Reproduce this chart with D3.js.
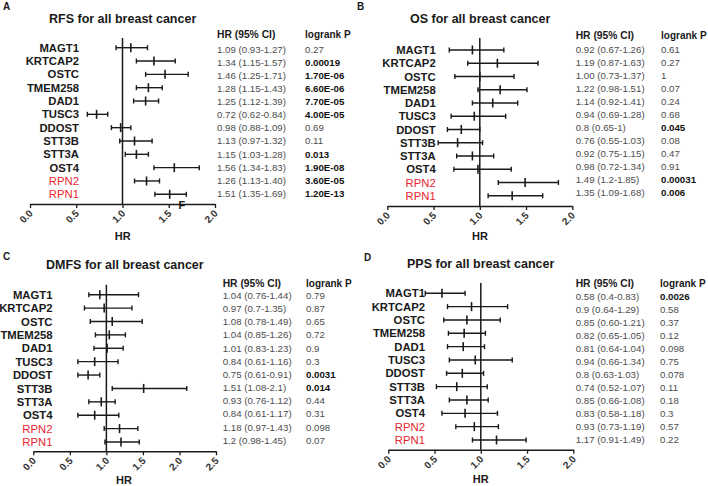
<!DOCTYPE html>
<html>
<head>
<meta charset="utf-8">
<script src="https://cdn.jsdelivr.net/npm/d3@7"></script>
<style>
  html, body { margin: 0; padding: 0; background: #fff; }
  svg { display: block; font-family: "Liberation Sans", Arial, Helvetica, sans-serif; }
</style>
</head>
<body>
<svg id="chart" width="708" height="486"></svg>
<script>
// ---------------- data ----------------
const genes = ["MAGT1","KRTCAP2","OSTC","TMEM258","DAD1","TUSC3","DDOST","STT3B","STT3A","OST4","RPN2","RPN1"];
const redGenes = ["RPN2","RPN1"];

const rfsHR = [1.09,1.34,1.46,1.28,1.25,0.72,0.98,1.13,1.15,1.56,1.26,1.51];
const rfsLo = [0.93,1.15,1.25,1.15,1.12,0.62,0.88,0.97,1.03,1.34,1.13,1.35];
const rfsHi = [1.27,1.57,1.71,1.43,1.39,0.84,1.09,1.32,1.28,1.83,1.40,1.69];
const rfsCI = ["1.09 (0.93-1.27)","1.34 (1.15-1.57)","1.46 (1.25-1.71)","1.28 (1.15-1.43)","1.25 (1.12-1.39)","0.72 (0.62-0.84)","0.98 (0.88-1.09)","1.13 (0.97-1.32)","1.15 (1.03-1.28)","1.56 (1.34-1.83)","1.26 (1.13-1.40)","1.51 (1.35-1.69)"];
const rfsP  = ["0.27","0.00019","1.70E-06","6.60E-06","7.70E-05","4.00E-05","0.69","0.11","0.013","1.90E-08","3.60E-05","1.20E-13"];

const osHR = [0.92,1.19,1.00,1.22,1.14,0.94,0.80,0.76,0.92,0.98,1.49,1.35];
const osLo = [0.67,0.87,0.73,0.98,0.92,0.69,0.65,0.55,0.75,0.72,1.20,1.09];
const osHi = [1.26,1.63,1.37,1.51,1.41,1.28,1.00,1.03,1.15,1.34,1.85,1.68];
const osCI = ["0.92 (0.67-1.26)","1.19 (0.87-1.63)","1.00 (0.73-1.37)","1.22 (0.98-1.51)","1.14 (0.92-1.41)","0.94 (0.69-1.28)","0.8 (0.65-1)","0.76 (0.55-1.03)","0.92 (0.75-1.15)","0.98 (0.72-1.34)","1.49 (1.2-1.85)","1.35 (1.09-1.68)"];
const osP  = ["0.61","0.27","1","0.07","0.24","0.68","0.045","0.08","0.47","0.91","0.00031","0.006"];

const dmfsHR = [0.91,0.97,1.08,1.04,1.01,0.84,0.75,1.51,0.93,0.84,1.18,1.20];
const dmfsLo = [0.76,0.70,0.78,0.85,0.83,0.61,0.61,1.08,0.76,0.61,0.97,0.98];
const dmfsHi = [1.44,1.35,1.49,1.26,1.23,1.16,0.91,2.10,1.12,1.17,1.43,1.45];
const dmfsCI = ["1.04 (0.76-1.44)","0.97 (0.7-1.35)","1.08 (0.78-1.49)","1.04 (0.85-1.26)","1.01 (0.83-1.23)","0.84 (0.61-1.16)","0.75 (0.61-0.91)","1.51 (1.08-2.1)","0.93 (0.76-1.12)","0.84 (0.61-1.17)","1.18 (0.97-1.43)","1.2 (0.98-1.45)"];
const dmfsP  = ["0.79","0.87","0.65","0.72","0.9","0.3","0.0031","0.014","0.44","0.31","0.098","0.07"];

const ppsHR = [0.58,0.90,0.85,0.82,0.81,0.94,0.80,0.74,0.85,0.83,0.93,1.17];
const ppsLo = [0.40,0.64,0.60,0.65,0.64,0.66,0.63,0.52,0.66,0.58,0.73,0.91];
const ppsHi = [0.83,1.29,1.21,1.05,1.04,1.34,1.03,1.07,1.08,1.18,1.19,1.49];
const ppsCI = ["0.58 (0.4-0.83)","0.9 (0.64-1.29)","0.85 (0.60-1.21)","0.82 (0.65-1.05)","0.81 (0.64-1.04)","0.94 (0.66-1.34)","0.8 (0.63-1.03)","0.74 (0.52-1.07)","0.85 (0.66-1.08)","0.83 (0.58-1.18)","0.93 (0.73-1.19)","1.17 (0.91-1.49)"];
const ppsP  = ["0.0026","0.58","0.37","0.12","0.098","0.75","0.078","0.11","0.18","0.3","0.57","0.22"];

const ticks2  = [0, 0.5, 1, 1.5, 2];
const ticks25 = [0, 0.5, 1, 1.5, 2, 2.5];
const headers = ["HR (95% CI)", "logrank P"];
const axisTitle = "HR";

// ---------------- layout ----------------
const panels = [
  { letter:"A", lx:3, ly:10, title:"RFS for all breast cancer", tx:49, ty:22.7,
    hr:rfsHR, lo:rfsLo, hi:rfsHi, ci:rfsCI, p:rfsP, dom:[0,2], ticks:ticks2,
    x0:30, x1:215, axisY:204, rowTop:47.7, rowBot:194.3, lineTop:38, labelRight:79,
    tableX:217, pX:305, headY:38, tabTop:49.3, tabBot:193.3, hrX:122.7, hrY:240, extraF:true },
  { letter:"B", lx:357, ly:10, title:"OS for all breast cancer", tx:410, ty:23.3,
    hr:osHR, lo:osLo, hi:osHi, ci:osCI, p:osP, dom:[0,2], ticks:ticks2,
    x0:387.3, x1:572.3, axisY:206, rowTop:50, rowBot:195.7, lineTop:38, labelRight:435.7,
    tableX:575.7, pX:661, headY:38.5, tabTop:50, tabBot:192.3, hrX:480, hrY:239.5 },
  { letter:"C", lx:3, ly:260, title:"DMFS for all breast cancer", tx:46, ty:268.7,
    hr:dmfsHR, lo:dmfsLo, hi:dmfsHi, ci:dmfsCI, p:dmfsP, dom:[0,2.5], ticks:ticks25,
    x0:33.3, x1:216, axisY:451.3, rowTop:294.7, rowBot:442, lineTop:284.7, labelRight:52.5,
    tableX:222.7, pX:306, headY:286.5, tabTop:295.3, tabBot:440.3, hrX:124, hrY:484 },
  { letter:"D", lx:364, ly:261, title:"PPS for all breast cancer", tx:407, ty:268,
    hr:ppsHR, lo:ppsLo, hi:ppsHi, ci:ppsCI, p:ppsP, dom:[0,2], ticks:ticks2,
    x0:388.3, x1:573.3, axisY:449.7, rowTop:293.3, rowBot:440, lineTop:283, labelRight:425,
    tableX:575.7, pX:660, headY:286.5, tabTop:297, tabBot:439.7, hrX:480.7, hrY:483 }
];

const svg = d3.select("#chart");
const INK = "#1a1a1a";
const GRAY = "#4d4d4d";
const RED = "#e8262f";

panels.forEach(P => {
  const g = svg.append("g");
  const x = d3.scaleLinear().domain(P.dom).range([P.x0, P.x1]);
  const y = d3.scalePoint().domain(genes).range([P.rowTop, P.rowBot]);
  const yt = d3.scalePoint().domain(genes).range([P.tabTop, P.tabBot]);

  g.append("text").attr("x", P.lx).attr("y", P.ly).text(P.letter)
    .attr("font-size", 10).attr("font-weight", "bold").attr("fill", INK);
  g.append("text").attr("x", P.tx).attr("y", P.ty).text(P.title)
    .attr("font-size", 12.5).attr("font-weight", "bold").attr("fill", INK);

  // reference line at HR = 1
  g.append("line").attr("x1", x(1)).attr("x2", x(1))
    .attr("y1", P.lineTop).attr("y2", P.axisY)
    .attr("stroke", INK).attr("stroke-width", 1.5);

  // axis
  const ax = d3.axisBottom(x).tickValues(P.ticks).tickFormat(d3.format(".1f"))
    .tickSize(4).tickSizeOuter(0);
  const axg = g.append("g").attr("transform", `translate(0,${P.axisY})`).call(ax);
  axg.select(".domain").attr("stroke", INK).attr("stroke-width", 1.5);
  axg.selectAll(".tick line").attr("stroke", INK).attr("stroke-width", 1.3);
  axg.selectAll(".tick text")
    .attr("font-family", "Liberation Sans, Arial, sans-serif")
    .attr("font-size", 10).attr("font-weight", "bold").attr("fill", "#333")
    .attr("text-anchor", "end").attr("dy", null).attr("y", 0)
    .attr("transform", "translate(3,10) rotate(-45)");

  g.append("text").attr("x", P.hrX).attr("y", P.hrY).text(axisTitle)
    .attr("text-anchor", "middle").attr("font-size", 11).attr("font-weight", "bold").attr("fill", INK);

  // row labels
  g.selectAll(".lab").data(genes).enter().append("text")
    .attr("x", P.labelRight).attr("y", d => y(d)).attr("dy", "0.36em")
    .attr("text-anchor", "end").attr("font-size", 11.3)
    .attr("font-weight", d => redGenes.includes(d) ? "normal" : "bold")
    .attr("fill", d => redGenes.includes(d) ? RED : INK)
    .text(d => d);

  // error bars
  const rows = genes.map((d, i) => ({ g: d, hr: P.hr[i], lo: P.lo[i], hi: P.hi[i] }));
  const eb = g.selectAll(".eb").data(rows).enter().append("g")
    .attr("stroke", INK).attr("stroke-width", 1.4);
  eb.append("line").attr("x1", d => x(d.lo)).attr("x2", d => x(d.hi))
    .attr("y1", d => y(d.g)).attr("y2", d => y(d.g));
  eb.append("line").attr("x1", d => x(d.lo)).attr("x2", d => x(d.lo))
    .attr("y1", d => y(d.g) - 2.5).attr("y2", d => y(d.g) + 2.5);
  eb.append("line").attr("x1", d => x(d.hi)).attr("x2", d => x(d.hi))
    .attr("y1", d => y(d.g) - 2.5).attr("y2", d => y(d.g) + 2.5);
  eb.append("line").attr("x1", d => x(d.hr)).attr("x2", d => x(d.hr))
    .attr("y1", d => y(d.g) - 4.5).attr("y2", d => y(d.g) + 4.5).attr("stroke-width", 1.6);

  // table
  g.append("text").attr("x", P.tableX).attr("y", P.headY).text(headers[0])
    .attr("font-size", 10.3).attr("font-weight", "bold").attr("fill", INK);
  g.append("text").attr("x", P.pX).attr("y", P.headY).text(headers[1])
    .attr("font-size", 10).attr("font-weight", "bold").attr("fill", INK);

  g.selectAll(".ci").data(genes).enter().append("text")
    .attr("x", P.tableX).attr("y", d => yt(d)).attr("dy", "0.36em")
    .attr("font-size", 9.7).attr("fill", GRAY)
    .text((d, i) => P.ci[i]);
  g.selectAll(".pv").data(genes).enter().append("text")
    .attr("x", P.pX).attr("y", d => yt(d)).attr("dy", "0.36em")
    .attr("font-size", 9.7)
    .attr("font-weight", (d, i) => +P.p[i] < 0.05 ? "bold" : "normal")
    .attr("fill", (d, i) => +P.p[i] < 0.05 ? "#111" : GRAY)
    .text((d, i) => P.p[i]);

  if (P.extraF) {
    g.append("text").attr("x", 178.5).attr("y", 208.5).text("F")
      .attr("font-size", 11).attr("font-weight", "bold").attr("fill", INK);
  }
});
</script>
</body>
</html>
